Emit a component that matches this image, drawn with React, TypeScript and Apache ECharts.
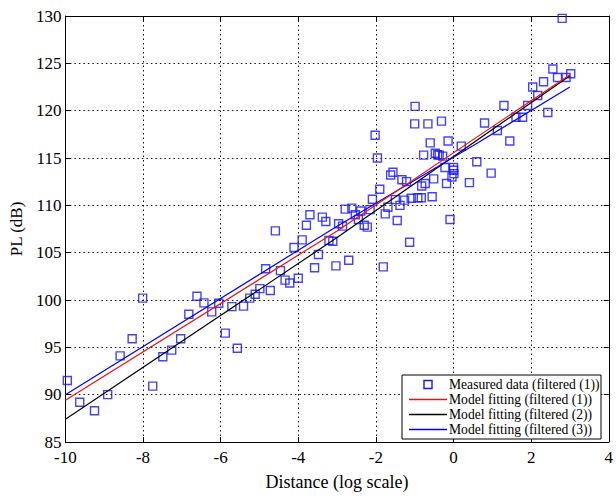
import React, { useEffect, useRef } from "react";
import * as echarts from "echarts";

const measuredX = [
  -9.95, -9.63, -9.25, -8.91, -8.59, -8.28, -8.01, -7.75, -7.49, -7.26, -7.03, -6.82, -6.61, -6.43,
  -6.23, -6.05, -5.88, -5.71, -5.57, -5.41, -5.25, -5.11, -4.99, -4.84, -4.72, -4.59, -4.46, -4.34,
  -4.22, -4.11, -4.0, -3.9, -3.79, -3.7, -3.58, -3.48, -3.38, -3.29, -3.21, -3.11, -3.03, -2.96,
  -2.86, -2.79, -2.7, -2.62, -2.53, -2.45, -2.39, -2.3, -2.22, -2.15, -2.09, -2.02, -1.96, -1.9,
  -1.81, -1.76, -1.69, -1.62, -1.56, -1.5, -1.45, -1.38, -1.33, -1.26, -1.21, -1.13, -1.09, -1.0,
  -0.99, -0.92, -0.83, -0.82, -0.73, -0.77, -0.66, -0.6, -0.55, -0.51, -0.47, -0.41, -0.37, -0.31,
  -0.28, -0.22, -0.18, -0.14, -0.09, -0.04, 0.0, 0.0, 0.01, 0.2, 0.41, 0.6, 0.8, 0.97, 1.13, 1.3,
  1.45, 1.61, 1.78, 1.91, 2.04, 2.17, 2.32, 2.43, 2.56, 2.68, 2.8, 2.9, 3.02,
];
const measuredY = [
  91.5, 89.2, 88.3, 90.0, 94.1, 95.9, 100.2, 90.9, 94.0, 94.7, 95.9, 98.5, 100.4, 99.7,
  98.75, 99.65, 96.5, 99.3, 94.9, 99.35, 100.2, 100.6, 101.2, 103.3, 101.0, 107.3, 103.1, 102.1,
  101.8, 105.55, 102.3, 106.35, 107.9, 109.0, 103.4, 104.8, 108.75, 108.3, 106.3, 106.2, 103.6, 108.05,
  107.8, 109.6, 104.2, 109.7, 109.0, 108.5, 109.4, 107.9, 107.7, 109.55, 110.65, 117.4, 115.0, 111.7,
  103.5, 109.1, 109.8, 113.2, 113.5, 110.6, 108.4, 110.0, 112.7, 110.55, 112.5, 106.1, 110.75, 118.6,
  120.45, 110.8, 110.8, 112.05, 112.3, 115.3, 118.6, 116.6, 110.9, 112.8, 115.5, 115.35, 115.3, 118.9,
  115.2, 114.0, 112.3, 116.8, 108.5, 113.0, 114.0, 113.7, 113.35, 116.25, 112.4, 114.6, 118.7, 113.4, 117.9, 120.55,
  116.8, 119.3, 119.3, 120.55, 122.5, 121.6, 123.05, 119.8, 124.4, 123.5, 129.75, 123.5, 123.9,
];

const fit1X = [-10, -3, 3];
const fit1Y = [89.4, 107.3, 123.8];
const fit2X = [-10, -3, 3];
const fit2Y = [87.4, 106.6, 123.7];
const fit3X = [-10, -3, 0.5, 3];
const fit3Y = [90.0, 107.8, 116.3, 122.5];

const seriesNames = [
  "Measured data (filtered (1))",
  "Model fitting (filtered (1))",
  "Model fitting (filtered (2))",
  "Model fitting (filtered (3))",
];
const seriesColors = ["#1414ff", "#ee1111", "#000000", "#0000ff"];

const xTitle = "Distance (log scale)";
const yTitle = "PL (dB)";

const FONT = "'Liberation Serif', 'Times New Roman', serif";

function zip(xs: number[], ys: number[]) {
  return xs.map((x, i) => [x, ys[i]]);
}

function legendGraphic() {
  const left = 402;
  const top = 375;
  const w = 199;
  const h = 64;
  const rowH = 15;
  const firstRow = top + 9.5;
  const els: any[] = [
    {
      type: "rect",
      shape: { x: left, y: top, width: w, height: h },
      style: { fill: "#fff", stroke: "#000", lineWidth: 1 },
      z: 100,
    },
  ];
  seriesNames.forEach((name, i) => {
    const cy = firstRow + i * rowH;
    if (i === 0) {
      els.push({
        type: "rect",
        shape: { x: 424, y: cy - 4, width: 8, height: 8 },
        style: { fill: "none", stroke: seriesColors[0], lineWidth: 1.4 },
        z: 101,
      });
    } else {
      els.push({
        type: "line",
        shape: { x1: 409, y1: cy, x2: 447, y2: cy },
        style: { stroke: seriesColors[i], lineWidth: 1.3 },
        z: 101,
      });
    }
    els.push({
      type: "text",
      x: 449,
      y: cy,
      style: {
        text: name,
        fill: "#000",
        font: `13.6px ${FONT}`,
        textAlign: "left",
        textVerticalAlign: "middle",
      },
      z: 101,
    });
  });
  return els;
}

export default function App() {
  const ref = useRef<HTMLDivElement>(null);
  useEffect(() => {
    if (!ref.current) return;
    const chart = echarts.init(ref.current, undefined, { renderer: "svg" });
    const dotted = { type: [1.5, 3] as any, color: "#111", width: 1 };
    const tick = { show: true, inside: true, length: 5, lineStyle: { color: "#000", width: 1 } };
    const axisLine = { show: true, onZero: false, lineStyle: { color: "#000", width: 1 } };
    chart.setOption({
      animation: false,
      backgroundColor: "#fff",
      grid: { left: 63, right: 3, top: 16, bottom: 48, containLabel: false },
      xAxis: [
        {
          type: "value",
          min: -10,
          max: 4,
          interval: 2,
          position: "bottom",
          axisLine,
          axisTick: tick,
          splitLine: { show: true, lineStyle: dotted },
          axisLabel: { color: "#000", fontFamily: FONT, fontSize: 17, margin: 7 },
          name: xTitle,
          nameLocation: "middle",
          nameGap: 31,
          nameTextStyle: { color: "#000", fontFamily: FONT, fontSize: 18 },
        },
        {
          type: "value",
          min: -10,
          max: 4,
          interval: 2,
          position: "top",
          axisLine,
          axisTick: tick,
          splitLine: { show: false },
          axisLabel: { show: false },
        },
      ],
      yAxis: [
        {
          type: "value",
          min: 85,
          max: 130,
          interval: 5,
          position: "left",
          axisLine,
          axisTick: tick,
          splitLine: { show: true, lineStyle: dotted },
          axisLabel: { color: "#000", fontFamily: FONT, fontSize: 17, margin: 4 },
          name: yTitle,
          nameLocation: "middle",
          nameGap: 38,
          nameTextStyle: { color: "#000", fontFamily: FONT, fontSize: 17 },
        },
        {
          type: "value",
          min: 85,
          max: 130,
          interval: 5,
          position: "right",
          axisLine,
          axisTick: tick,
          splitLine: { show: false },
          axisLabel: { show: false },
        },
      ],
      graphic: legendGraphic(),
      series: [
        {
          name: seriesNames[0],
          type: "scatter",
          symbol: "rect",
          symbolSize: 8,
          data: zip(measuredX, measuredY),
          itemStyle: { color: "rgba(0,0,0,0)", borderColor: seriesColors[0], borderWidth: 1.4 },
          z: 2,
        },
        {
          name: seriesNames[2],
          type: "line",
          data: zip(fit2X, fit2Y),
          showSymbol: false,
          symbol: "none",
          lineStyle: { color: seriesColors[2], width: 1.2 },
          z: 3,
        },
        {
          name: seriesNames[3],
          type: "line",
          data: zip(fit3X, fit3Y),
          showSymbol: false,
          symbol: "none",
          lineStyle: { color: seriesColors[3], width: 1.2 },
          z: 3,
        },
        {
          name: seriesNames[1],
          type: "line",
          data: zip(fit1X, fit1Y),
          showSymbol: false,
          symbol: "none",
          lineStyle: { color: seriesColors[1], width: 1.2 },
          z: 3,
        },
      ],
    });
    return () => chart.dispose();
  }, []);
  return (
    <div
      ref={ref}
      style={{ position: "fixed", left: 0, top: 0, width: 616, height: 496, background: "#fff" }}
    />
  );
}
